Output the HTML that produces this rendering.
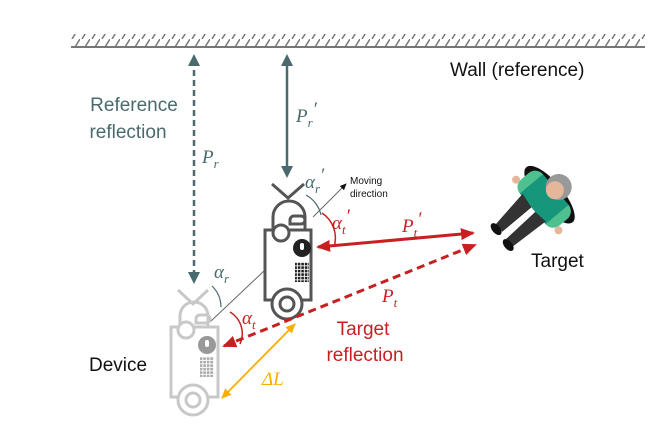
<!DOCTYPE html>
<html><head><style>body{margin:0;background:#fff}svg{display:block}text{font-family:"Liberation Sans",sans-serif}.m{font-family:"Liberation Serif",serif;font-style:italic}</style></head>
<body>
<svg width="659" height="437" viewBox="0 0 659 437" xmlns="http://www.w3.org/2000/svg">
<defs>
<pattern id="h" width="10" height="13" patternUnits="userSpaceOnUse"><line x1="2" y1="13" x2="10" y2="0" stroke="#777" stroke-width="1.5"/></pattern>
<pattern id="dd" width="3.5" height="3.5" patternUnits="userSpaceOnUse"><rect x="0.3" y="0.3" width="2.6" height="2.6" fill="#222"/></pattern>
<pattern id="dl" width="3.5" height="3.5" patternUnits="userSpaceOnUse"><rect x="0.3" y="0.3" width="2.6" height="2.6" fill="#aaa"/></pattern>
<marker id="ar" markerWidth="14" markerHeight="12" refX="12" refY="6" orient="auto-start-reverse" markerUnits="userSpaceOnUse"><path d="M0,0L14,6L0,12z" fill="#c82020"/></marker>
<marker id="ao" markerWidth="10" markerHeight="9" refX="9" refY="4.5" orient="auto-start-reverse" markerUnits="userSpaceOnUse"><path d="M0,0L10,4.5L0,9z" fill="#f5b000"/></marker>
<marker id="ak" markerWidth="7" markerHeight="6" refX="6" refY="3" orient="auto" markerUnits="userSpaceOnUse"><path d="M0,0L7,3L0,6z" fill="#111"/></marker>
</defs>
<rect x="71" y="34" width="574" height="13" fill="url(#h)"/>
<line x1="71" y1="47" x2="645" y2="47" stroke="#777" stroke-width="2"/>
<text x="450" y="76" font-size="19" fill="#111">Wall (reference)</text>
<text x="134" y="111" font-size="19" fill="#4a6a6e" text-anchor="middle">Reference</text>
<text x="128" y="138" font-size="19" fill="#4a6a6e" text-anchor="middle">reflection</text>
<line x1="194" y1="60" x2="194" y2="278" stroke="#4a6a6e" stroke-width="2.5" stroke-dasharray="6,4"/>
<path d="M194,54l-6,12h12z M194,284l-6,-12h12z" fill="#4a6a6e"/>
<text x="202" y="163" font-size="19" class="m" fill="#4a6a6e">P<tspan font-size="13" dy="5">r</tspan></text>
<line x1="287" y1="62" x2="287" y2="170" stroke="#4a6a6e" stroke-width="2.5"/>
<path d="M287,54l-6,12h12z M287,178l-6,-12h12z" fill="#4a6a6e"/>
<text x="296" y="122" font-size="19" class="m" fill="#4a6a6e">P<tspan font-size="13" dy="5">r</tspan><tspan dy="-12">′</tspan></text>
<line x1="210" y1="322" x2="265" y2="270" stroke="#666" stroke-width="1"/>
<line x1="313" y1="217" x2="346" y2="184" stroke="#666" stroke-width="1" marker-end="url(#ak)"/>
<text x="350" y="184" font-size="10" fill="#111">Moving</text>
<text x="350" y="197" font-size="10" fill="#111">direction</text>
<g stroke="#c8c8c8" stroke-width="3" fill="none">
<path d="M178,290L193,304L208,290"/>
<path d="M180,327V316a14,14 0 0 1 28,0V327"/>
<path d="M196,323h10a4,4 0 0 0 0-8h-6a4,4 0 0 0 -4,4z"/>
<rect x="171" y="327" width="47" height="70"/>
<circle cx="186" cy="330" r="8" fill="#fff"/>
<circle cx="193" cy="400" r="15" fill="#fff"/>
<circle cx="193" cy="400" r="7"/>
</g>
<circle cx="207" cy="345" r="9" fill="#999"/>
<rect x="205" y="340" width="4" height="7" rx="2" fill="#fff"/>
<rect x="200" y="357" width="14" height="20" fill="url(#dl)"/>
<g stroke="#555" stroke-width="3" fill="none">
<path d="M272,184L288,198L304,184"/>
<path d="M273,230V217a15,15 0 0 1 32,0V230"/>
<path d="M290,224h11a4,4 0 0 0 0-8h-7a4,4 0 0 0 -4,4z"/>
<rect x="265" y="230" width="46" height="70"/>
<circle cx="281" cy="233" r="8" fill="#fff"/>
<circle cx="287" cy="304" r="15" fill="#fff"/>
<circle cx="287" cy="304" r="7"/>
</g>
<circle cx="302" cy="248" r="9" fill="#222"/>
<rect x="300" y="243" width="4" height="7" rx="2" fill="#fff"/>
<rect x="295" y="262" width="14" height="20" fill="url(#dd)"/>
<path d="M212,286a30,30 0 0 1 9,21" stroke="#4a6a6e" stroke-width="1.2" fill="none"/>
<path d="M306,195a30,30 0 0 1 15,20" stroke="#4a6a6e" stroke-width="1.2" fill="none"/>
<path d="M230,312a25,25 0 0 1 10,32" stroke="#c82020" stroke-width="1.5" fill="none"/>
<path d="M322,213a30,30 0 0 1 12,34" stroke="#c82020" stroke-width="1.5" fill="none"/>
<text x="214" y="278" font-size="19" class="m" fill="#4a6a6e">α<tspan font-size="13" dy="5">r</tspan></text>
<text x="305" y="188" font-size="19" class="m" fill="#4a6a6e">α<tspan font-size="13" dy="5">r</tspan><tspan dy="-12">′</tspan></text>
<text x="242" y="324" font-size="19" class="m" fill="#c82020">α<tspan font-size="13" dy="5">t</tspan></text>
<text x="332" y="229" font-size="19" class="m" fill="#c82020">α<tspan font-size="13" dy="5">t</tspan><tspan dy="-12">′</tspan></text>
<line x1="318" y1="247" x2="473" y2="233" stroke="#c82020" stroke-width="3" marker-start="url(#ar)" marker-end="url(#ar)"/>
<line x1="224" y1="346" x2="475" y2="245" stroke="#c82020" stroke-width="3" stroke-dasharray="8,5" marker-start="url(#ar)" marker-end="url(#ar)"/>
<text x="402" y="232" font-size="19" class="m" fill="#c82020">P<tspan font-size="13" dy="5">t</tspan><tspan dy="-12">′</tspan></text>
<text x="382" y="302" font-size="19" class="m" fill="#c82020">P<tspan font-size="13" dy="5">t</tspan></text>
<text x="363" y="335" font-size="19" fill="#c82020" text-anchor="middle">Target</text>
<text x="365" y="361" font-size="19" fill="#c82020" text-anchor="middle">reflection</text>
<line x1="222" y1="398" x2="295" y2="324" stroke="#f5b000" stroke-width="1.8" marker-start="url(#ao)" marker-end="url(#ao)"/>
<text x="262" y="385" font-size="19" class="m" fill="#f5b000">ΔL</text>
<text x="89" y="371" font-size="19" fill="#111">Device</text>
<g transform="translate(548,196) rotate(50)">
<ellipse cx="0" cy="-2" rx="36" ry="13" fill="#111"/>
<rect x="-30" y="-10" width="60" height="30" rx="10" fill="#4fc08f"/>
<rect x="-20" y="-10" width="40" height="30" fill="#16967a"/>
<path d="M-18,18 L-12,58 L-2,58 L-2,20z M4,20 L6,60 L16,60 L18,18z" fill="#333"/>
<ellipse cx="-8" cy="61" rx="7" ry="4" fill="#111"/>
<ellipse cx="12" cy="62" rx="7" ry="4" fill="#111"/>
<circle cx="0" cy="-14" r="13" fill="#999"/>
<circle cx="0" cy="-9" r="9" fill="#e5b79a"/>
<circle cx="-33" cy="14" r="4" fill="#e5b79a"/>
<circle cx="33" cy="14" r="4" fill="#e5b79a"/>
</g>
<text x="531" y="267" font-size="19" fill="#111">Target</text>
</svg>
</body></html>
